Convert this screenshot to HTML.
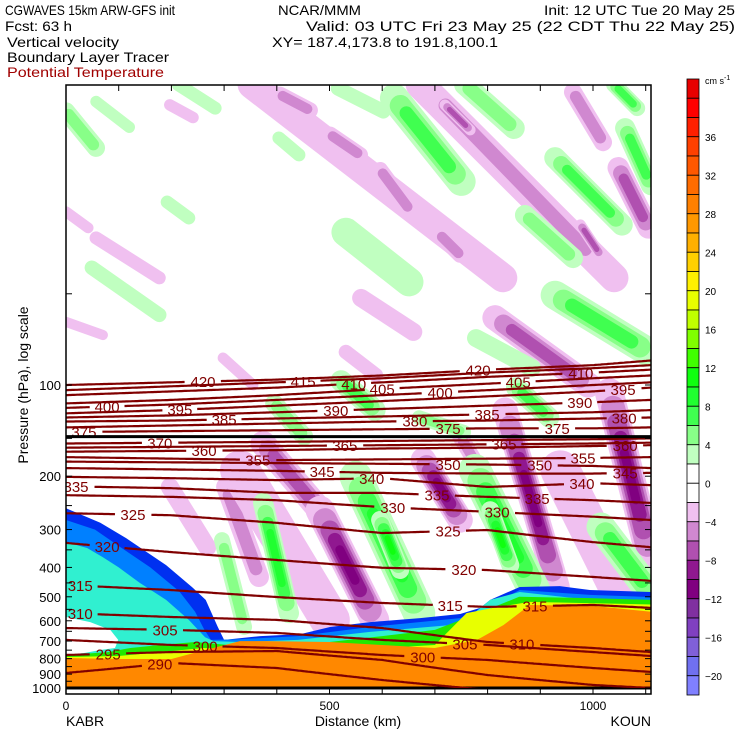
<!DOCTYPE html>
<html><head><meta charset="utf-8"><style>
html,body{margin:0;padding:0;background:#fff;}
svg{display:block;font-family:"Liberation Sans",sans-serif;}
</style></head><body>
<svg id="chart" width="740" height="740" viewBox="0 0 740 740" xmlns="http://www.w3.org/2000/svg">
<g font-size="14" fill="#000">
<text x="5" y="15" textLength="170" lengthAdjust="spacingAndGlyphs">CGWAVES 15km ARW-GFS init</text>
<text x="278" y="15" textLength="83" lengthAdjust="spacingAndGlyphs">NCAR/MMM</text>
<text x="544" y="15" textLength="191" lengthAdjust="spacingAndGlyphs">Init: 12 UTC Tue 20 May 25</text>
<text x="5" y="31" textLength="67" lengthAdjust="spacingAndGlyphs">Fcst:   63 h</text>
<text x="306" y="31" textLength="429" lengthAdjust="spacingAndGlyphs">Valid: 03 UTC Fri 23 May 25 (22 CDT Thu 22 May 25)</text>
<text x="7" y="47" textLength="112" lengthAdjust="spacingAndGlyphs">Vertical velocity</text>
<text x="272" y="47" textLength="226" lengthAdjust="spacingAndGlyphs">XY= 187.4,173.8 to 191.8,100.1</text>
<text x="7" y="62" textLength="162" lengthAdjust="spacingAndGlyphs">Boundary Layer Tracer</text>
<text x="7" y="77" textLength="157" lengthAdjust="spacingAndGlyphs" fill="#a00000">Potential Temperature</text>
</g>
<defs><clipPath id="plotclip"><rect x="66" y="85" width="585" height="609"/></clipPath>
<clipPath id="aboveground"><rect x="66" y="85" width="585" height="603"/></clipPath></defs>
<g id="field" clip-path="url(#plotclip)"></g>
<g id="tracer" clip-path="url(#plotclip)"></g>
<g id="isen" clip-path="url(#aboveground)"></g>
<g id="axes"></g>
<g id="cbar"></g>
</svg>
<script>
// ---- data ----
const distKm = [0,200,400,600,800,1000,1110];
const thetaVals = [290,295,300,305,310,315,320,325,330,335,340,345,350,355,360,365,370,375,380,385,390,395,400,405,410,415,420];
const thetaP = [
[892,827,859,941,1015,1030,1030],
[778,761,755,808,906,977,1000],
[694,721,738,778,808,859,885],
[634,643,658,694,721,761,784],
[566,583,596,634,705,738,761],
[457,475,501,524,540,532,544],
[332,356,378,401,408,430,443],
[265,269,285,308,301,330,343],
[231,234,240,253,262,272,279],
[216,219,227,227,234,240,245],
[201,203,206,203,217,211,214],
[188,190,192,195,196,196,195],
[179,180,181,182,183,185,188],
[173,175,177,176,175,174,173],
[166,165,164,162,161,159,158],
[161,160,159,158,157,156,155],
[156,155,154,153,152,151,150],
[143,142,141,140,139,139,138],
[138,136,134,132,131,129,128],
[132,131,129,127,125,123,121],
[128,126,123,120,117,114,112],
[124,121,117,113,109,105,102],
[119,116,112,108,104,100,98],
[115,112,108,103,99,95,93],
[108,105,102,98,94,91,89],
[104,101,98,95,91,88,86],
[100,98,96,93,89,86,83]];
const labelTheta = [290,295,300,300,305,305,310,310,315,315,315,320,320,325,325,330,330,335,335,335,340,340,345,345,350,350,355,355,360,360,365,365,370,375,375,375,380,380,385,385,390,390,395,395,400,400,405,405,410,410,415,420,420];
const labelKm =    [178,80,264,677,188,757,27,865,27,729,890,78,755,127,725,620,818,19,704,894,580,979,486,1061,725,899,364,981,262,1061,529,831,178,34,725,932,662,1059,300,799,512,975,216,1057,78,710,600,858,546,977,450,260,782];
const tropoP = 148;
const groundP = [1000,1000,1000,1000,1000,1000,1000];
// vertical velocity streaks: [km1,p1,km2,p2,value(cm/s)]
const wKm1 = [353,406,501,596,710,672,691,719,976,962,1048,814,57,0,0,560,298,531,197,374,482,678,833,1031,197,304,748,330,938,0];
const wP1  = [10.2,11.0,14.9,19.5,32.0,10.2,10.6,11.9,29.6,10.8,19.2,60.0,32.7,26.8,61.9,51.6,81.4,77.8,11.9,156,259,177,121,106,217,217,148,191,191,600];
const wKm2 = [829,463,558,653,748,1040,1014,767,1014,1019,1105,991,177,42,70,659,355,588,241,482,586,748,932,1110,268,366,797,501,1051,65];
const wP2  = [44.3,12.4,17.4,26.5,37.2,44.3,40.1,14.4,37.2,15.8,30.3,100,44.3,30.3,68.4,66.8,100,92.7,13.1,259,596,279,464,378,343,430,206,596,475,680];
const wVal = [-4,-6,-6,-6,-6,-4,-6,-8,-8,-6,-8,-8,-4,-4,-4,-4,-4,-4,-4,-8,-12,-12,-12,-12,-4,-6,-6,-4,-4,-4];
const wWid = [40,22,22,22,22,40,30,15,15,25,30,35,18,15,14,25,15,20,16,35,40,35,35,40,25,28,22,55,55,22];
const gKm1 = [623,757,928,871,928,531,49,0,57,1040,1061,516,213,404,192,778,550,596,776,805,374,1015,522,395,854,670,296];
const gP1  = [11.3,10.2,17.8,27.5,50.5,31.3,41.0,12.5,11.6,10.2,14.2,10.5,10.2,15.3,24.9,70.0,201,279,191,259,245,294,97,115,102,128,325];
const gKm2 = [750,850,1055,962,1105,651,177,57,120,1084,1110,602,283,442,233,884,670,634,888,843,423,1110,586,452,917,755,338];
const gP2  = [21.3,14.2,29.6,38.1,77.8,45.7,58.7,16.5,14.1,12.2,21.9,12.5,12.2,17.4,28.1,87.8,566,408,475,393,566,486,121,148,128,143,629];
const gVal = [8,6,8,6,8,4,4,6,4,8,8,4,4,4,4,4,10,12,10,12,10,8,8,6,8,6,6];
const gWid = [40,30,30,28,40,40,20,25,16,22,28,20,18,18,18,25,45,25,45,25,28,40,30,25,28,20,22];
// boundary layer tracer layers (km, hPa) outer -> inner
const trDarkKm = [0,65,114,190,240,265,288,300,369,445,501,577,672,748,786,805,861,937,994,1110];
const trDarkP  = [255,285,320,393,466,512,629,694,674,664,629,606,588,570,544,512,464,461,475,482];
const trBlueKm = [0,55,100,160,215,245,262,275,330,440,577,748,805,861,994,1110];
const trBlueP  = [279,300,340,400,480,560,640,694,690,674,629,588,536,475,493,501];
const trCyanKm = [0,40,70,100,140,190,233,264,280,330,440,577,748,805,861,994,1110];
const trCyanP  = [330,345,370,400,450,512,596,680,700,705,694,653,616,512,482,512,517];
const trGreenKm= [0,80,122,179,245,330,500,600,700,790,860,994,1110];
const trGreenP = [778,761,738,721,705,727,705,674,643,560,500,505,512];
const trYelKm  = [0,100,179,260,330,480,600,700,760,820,880,1000,1110];
const trYelP   = [790,784,761,738,749,761,738,721,566,540,520,525,530];
const trOrKm   = [0,100,200,264,330,380,500,600,700,780,830,880,1000,1110];
const trOrP    = [796,802,802,749,700,700,705,721,738,694,620,532,536,560];
const notchKm  = [0,46,84,99,93,65,36,0];
const notchP   = [583,606,643,694,738,749,766,778];
// colour bar
const cbColors = ['#e80000','#ff0000','#ff2000','#ff4000','#ff5800','#ff6c00','#ff8000','#ff9800','#ffb000','#ffd000','#fff000','#e8ff00','#c0ff00','#80ff00','#40ff00','#10ff10','#20ff30','#40ff50','#88ff88','#c0ffc0','#ffffff','#ffffff','#f0c0f0','#d088d0','#b050b0','#901890','#800080','#8030a0','#8040c0','#8060d8','#7070f0','#8080ff'];
const cbTicks = [36,32,28,24,20,16,12,8,4,0,-4,-8,-12,-16,-20];
const cbTop = 42, cbStep = 2;
const posColors = ['#c0ffc0','#88ff88','#40ff50','#20ff30','#10ff10','#40ff00'];
const negColors = ['#f0c0f0','#d088d0','#b050b0','#901890','#800080','#8030a0'];
const xTicks = [0,100,200,300,400,500,600,700,800,900,1000,1100];
const xTickLabels = [0,500,1000];
const pTicks = [50,100,150,200,250,300,350,400,450,500,550,600,650,700,750,800,850,900,950,1000];
const pTickLabels = [100,200,300,400,500,600,700,800,900,1000];

// ---- scales ----
const X = km => 66 + km*0.527;
const Y = p => 688 - 303*Math.log10(1000/p);
const NS = 'http://www.w3.org/2000/svg';
function mk(tag, attrs, parent){ const e=document.createElementNS(NS,tag); for(const k in attrs) e.setAttribute(k,attrs[k]); parent.appendChild(e); return e; }
const field = document.getElementById('field');
const tracerG = document.getElementById('tracer');
const isenG = document.getElementById('isen');
const axes = document.getElementById('axes');
const cbar = document.getElementById('cbar');

function streak(k1,p1,k2,p2,v,w,name){
  const n = Math.max(1, Math.floor(Math.abs(v)/2)-1);
  const cols = v<0?negColors:posColors;
  const x1=X(k1),y1=Y(p1),x2=X(k2),y2=Y(p2);
  const cx=(x1+x2)/2, cy=(y1+y2)/2;
  const W = w*0.72;
  for(let k=0;k<n;k++){
    const f = 1 - k/(n+0.8);
    const s = 1 - k*0.18;
    const ln = mk('line',{x1:cx+(x1-cx)*s, y1:cy+(y1-cy)*s, x2:cx+(x2-cx)*s, y2:cy+(y2-cy)*s, stroke:cols[Math.min(k,cols.length-1)], 'stroke-width':W*f, 'stroke-linecap':'round'}, field);
    
    
  }
}
for(let i=0;i<wVal.length;i++) streak(wKm1[i],wP1[i],wKm2[i],wP2[i],wVal[i],wWid[i],'downdraft-band');
for(let i=0;i<gVal.length;i++) streak(gKm1[i],gP1[i],gKm2[i],gP2[i],gVal[i],gWid[i],'updraft-band');

function poly(kms, ps, color, name, closeGround){
  let pts = kms.map((k,i)=>X(k).toFixed(1)+','+Y(ps[i]).toFixed(1));
  if(closeGround){ pts.push(X(kms[kms.length-1])+','+700); pts.push(X(kms[0])+','+700); }
  const e = mk('polygon',{points:pts.join(' '), fill:color}, tracerG);
  
  
}
poly(trDarkKm,trDarkP,'#0030f0','tracer-dark-blue',true);
poly(trBlueKm,trBlueP,'#0080ff','tracer-blue',true);
poly(trCyanKm,trCyanP,'#30f0d0','tracer-cyan',true);
poly(trGreenKm,trGreenP,'#20e800','tracer-green',true);
poly(trYelKm,trYelP,'#e8ff00','tracer-yellow',true);
poly(trOrKm,trOrP,'#ff8800','tracer-orange',true);
poly(notchKm,notchP,'#ffffff','tracer-gap',false);
streak(0,620,60,650,-4,14,'downdraft-band');
// below ground
const bg = mk('rect',{x:66,y:Y(1000),width:585,height:10,fill:'#fff'},tracerG);


const gl = mk('polyline',{points:distKm.map((k,i)=>X(k)+','+Y(groundP[i])).join(' '),stroke:'#000','stroke-width':3,fill:'none'},tracerG);



// isentropes
function interp(arr, km){
  for(let i=0;i<distKm.length-1;i++){
    if(km<=distKm[i+1]){ const t=(km-distKm[i])/(distKm[i+1]-distKm[i]); return arr[i]+(arr[i+1]-arr[i])*t; }
  }
  return arr[arr.length-1];
}
thetaVals.forEach((th,ti)=>{
  const arr = thetaP[ti];
  const gaps = [];
  labelTheta.forEach((lt,li)=>{ if(lt===th){ const halfw = 17/0.527; gaps.push([labelKm[li]-halfw, labelKm[li]+halfw, labelKm[li]]); } });
  let seg=[];
  const segs=[];
  for(let km=0; km<=1110; km+=3){
    const kk=Math.min(km,1110);
    const inGap = gaps.some(g=>kk>g[0]&&kk<g[1]);
    if(inGap){ if(seg.length) segs.push(seg); seg=[]; continue; }
    seg.push(X(kk).toFixed(1)+','+Y(interp(arr,kk)).toFixed(1));
  }
  if(seg.length) segs.push(seg);
  segs.forEach(s=>{
    const e = mk('polyline',{points:s.join(' '),fill:'none',stroke:'#800000','stroke-width':2.2},isenG);
    
    
  });
  gaps.forEach(g=>{
    const t = mk('text',{x:X(g[2]),y:Y(interp(arr,g[2]))+5.5,'text-anchor':'middle','font-size':15,fill:'#800000'},isenG);
    t.textContent = th;
    
    
  });
});
const tl = mk('line',{x1:66,x2:651,y1:Y(tropoP),y2:Y(tropoP),stroke:'#000','stroke-width':3},isenG);



// axes
const frame = mk('rect',{x:66,y:85,width:585,height:609,fill:'none',stroke:'#000','stroke-width':1.5},axes);


xTicks.forEach(k=>{
  const a = mk('line',{x1:X(k),x2:X(k),y1:694,y2:688,stroke:'#000','stroke-width':1},axes);
  
  
  const b = mk('line',{x1:X(k),x2:X(k),y1:85,y2:91,stroke:'#000','stroke-width':1},axes);
  
  
});
xTickLabels.forEach(k=>{
  const t = mk('text',{x:X(k),y:710,'text-anchor':'middle','font-size':12},axes);
  t.textContent = k;
  
  
});
pTicks.forEach(p=>{
  const a = mk('line',{x1:66,x2:72,y1:Y(p),y2:Y(p),stroke:'#000','stroke-width':1},axes);
  
  
  const b = mk('line',{x1:645,x2:651,y1:Y(p),y2:Y(p),stroke:'#000','stroke-width':1},axes);
  
  
});
pTickLabels.forEach(p=>{
  const t = mk('text',{x:61,y:Y(p)+5,'text-anchor':'end','font-size':13},axes);
  t.textContent = p;
  
  
});
[['KABR',66,'start','start-station'],['Distance (km)',358,'middle','x-axis-title'],['KOUN',651,'end','end-station']].forEach(d=>{
  const t = mk('text',{x:d[1],y:726,'text-anchor':d[2],'font-size':14},axes);
  t.textContent = d[0];
  
  
});
const yt = mk('text',{x:0,y:0,'text-anchor':'middle','font-size':14,transform:'translate(28,385) rotate(-90)'},axes);
yt.textContent = 'Pressure (hPa), log scale';



// colour bar
const cbY0=79, cbY1=695, cbH=(cbY1-cbY0)/cbColors.length;
const CY = v => cbY0 + (cbTop - v)/cbStep*cbH;
cbColors.forEach((c,i)=>{
  const r = mk('rect',{x:687,y:cbY0+i*cbH,width:12,height:cbH,fill:c,stroke:'#000','stroke-width':0.8},cbar);
  
  
});
cbTicks.forEach(v=>{
  const t = mk('text',{x:705,y:CY(v)+4,'font-size':10},cbar);
  t.textContent = v<0 ? '\u2212'+Math.abs(v) : v;
  
  
});
const un = mk('text',{x:705,y:84,'font-size':9},cbar);
un.innerHTML = 'cm s<tspan dy="-4" font-size="7">-1</tspan>';


</script>
</body></html>
